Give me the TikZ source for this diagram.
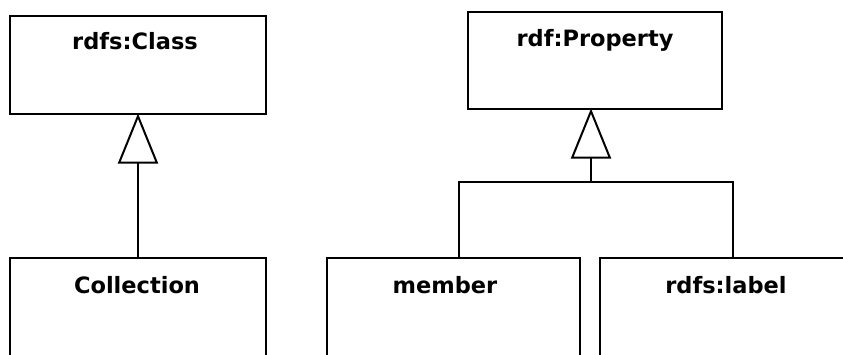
\documentclass[tikz,border=0pt]{standalone}
\usepackage{fontspec}
\setmainfont{DejaVu Sans}
\usetikzlibrary{arrows.meta}
\begin{document}
\begin{tikzpicture}[x=1pt,y=-1pt,
  umlbox/.style={draw=black, line width=2pt, rectangle, inner sep=0pt, fill=white},
  title/.style={anchor=base, font=\bfseries\fontsize{22.5}{27}\selectfont, inner sep=0pt},
  gen/.style={line width=2pt, -{Triangle[open, length=50pt, width=40pt, line width=2pt]}},
  wire/.style={line width=2pt}]
  \useasboundingbox (0,0) rectangle (843,354);
  \clip (0,0) rectangle (843,354);
  % superclasses
  \node[umlbox, minimum width=256pt, minimum height=98pt] (cls) at (138,65) {};
  \node[title] (clsT) at (135,49) {rdfs:Class};
  \node[umlbox, minimum width=254pt, minimum height=97pt] (prop) at (595,60.5) {};
  \node[title] (propT) at (595,46) {rdf:Property};
  % subclasses (continue past the lower edge)
  \node[umlbox, minimum width=256pt, minimum height=140pt] (coll) at (138,328) {};
  \node[title] (collT) at (137,293) {Collection};
  \node[umlbox, minimum width=253pt, minimum height=140pt] (member) at (453.5,328) {};
  \node[title] (memberT) at (445,293) {member};
  \node[umlbox, minimum width=266pt, minimum height=140pt] (label) at (733,328) {};
  \node[title] (labelT) at (726,293) {rdfs:label};
  % generalisation connectors
  \coordinate (j) at (591,182);
  \draw[gen] (coll.north) -- ([yshift=1.5pt]cls.south);
  \draw[gen] (j) -- ([xshift=-4pt,yshift=1.5pt]prop.south);
  \draw[wire] ([xshift=5.5pt]member.north) |- (j) -| (label.north);
\end{tikzpicture}
\end{document}
